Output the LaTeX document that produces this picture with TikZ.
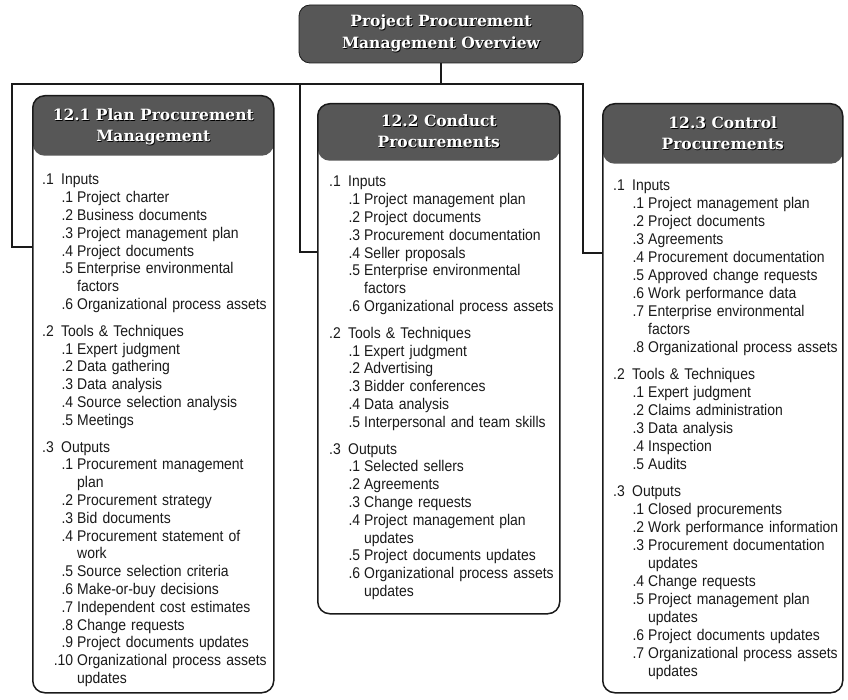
\documentclass[tikz,border=0pt]{standalone}
\usepackage{fontspec}
\setmainfont{Liberation Sans}[FakeStretch=0.9]
\newfontfamily\slab{DejaVu Serif}
\usetikzlibrary{positioning}
\definecolor{hdr}{HTML}{575757}
\definecolor{ink}{HTML}{1A1A1A}

% white heading text with a dark drop shadow
\newcommand{\shd}[1]{\makebox[0pt][l]{\hspace{0.9pt}\raisebox{-0.9pt}{\color{black}#1}}#1}
% list lines: group heading, numbered item, wrapped item line, space between groups
\newcommand{\grp}[2]{\par\noindent\makebox[19pt][l]{#1}#2\par}
\newcommand{\itm}[2]{\par\noindent\hangindent=35pt\hangafter=1\hspace*{19pt}\makebox[12pt][r]{#1}\hspace{4pt}#2\par}
\newcommand{\wrapln}{\hfil\break}
\newcommand{\gap}{\vspace{9pt}}

\tikzset{
  wire/.style={draw=ink,line width=1.8pt,line join=miter},
  topbox/.style={rectangle,rounded corners=11pt,fill=hdr,draw=ink,line width=0.8pt,
    minimum width=284pt,minimum height=58pt,text=white,align=center,
    font=\slab\bfseries\fontsize{15.5}{21.5}\selectfont},
  procbox/.style={rectangle,rounded corners=12pt,draw=ink,line width=1.5pt,fill=white,
    anchor=north west,inner sep=0pt,
    path picture={\fill[hdr] (path picture bounding box.north west) rectangle ([yshift=-#1]path picture bounding box.north east);}},
  headtxt/.style={text=white,align=center,font=\slab\bfseries\fontsize{15.5}{21}\selectfont},
  listtxt/.style={anchor=north west,inner sep=0pt,text width=232pt,align=left,text=ink,
    font=\fontsize{15.5}{17.8}\selectfont},
}

\begin{document}
\begin{tikzpicture}[x=1pt,y=-1pt]
\useasboundingbox (0,0) rectangle (848,700);

\node[topbox] (top) at (441,34) {\shd{Project Procurement}\\\shd{Management Overview}};

% the three processes
\node[procbox=60pt,minimum width=241pt,minimum height=597pt] (p1) at (32,95) {};
\node[procbox=57pt,minimum width=242pt,minimum height=510pt] (p2) at (317,103) {};
\node[procbox=60pt,minimum width=240pt,minimum height=589pt] (p3) at (602,103) {};

\node[headtxt] (h1) at ([yshift=-32pt]p1.north) {\shd{12.1 Plan Procurement}\\\shd{Management}};
\node[headtxt] (h2) at ([yshift=-29pt]p2.north) {\shd{12.2 Conduct}\\\shd{Procurements}};
\node[headtxt] (h3) at ([yshift=-31pt]p3.north) {\shd{12.3 Control}\\\shd{Procurements}};

\node[listtxt] (l1) at ([xshift=10pt,yshift=-72pt]p1.north west) {%
\grp{.1}{Inputs}
\itm{.1}{Project charter}
\itm{.2}{Business documents}
\itm{.3}{Project management plan}
\itm{.4}{Project documents}
\itm{.5}{Enterprise environmental\wrapln factors}
\itm{.6}{Organizational process assets}
\gap
\grp{.2}{Tools \& Techniques}
\itm{.1}{Expert judgment}
\itm{.2}{Data gathering}
\itm{.3}{Data analysis}
\itm{.4}{Source selection analysis}
\itm{.5}{Meetings}
\gap
\grp{.3}{Outputs}
\itm{.1}{Procurement management\wrapln plan}
\itm{.2}{Procurement strategy}
\itm{.3}{Bid documents}
\itm{.4}{Procurement statement of\wrapln work}
\itm{.5}{Source selection criteria}
\itm{.6}{Make-or-buy decisions}
\itm{.7}{Independent cost estimates}
\itm{.8}{Change requests}
\itm{.9}{Project documents updates}
\itm{.10}{Organizational process assets\wrapln updates}};

\node[listtxt] (l2) at ([xshift=12pt,yshift=-66pt]p2.north west) {%
\grp{.1}{Inputs}
\itm{.1}{Project management plan}
\itm{.2}{Project documents}
\itm{.3}{Procurement documentation}
\itm{.4}{Seller proposals}
\itm{.5}{Enterprise environmental\wrapln factors}
\itm{.6}{Organizational process assets}
\gap
\grp{.2}{Tools \& Techniques}
\itm{.1}{Expert judgment}
\itm{.2}{Advertising}
\itm{.3}{Bidder conferences}
\itm{.4}{Data analysis}
\itm{.5}{Interpersonal and team skills}
\gap
\grp{.3}{Outputs}
\itm{.1}{Selected sellers}
\itm{.2}{Agreements}
\itm{.3}{Change requests}
\itm{.4}{Project management plan\wrapln updates}
\itm{.5}{Project documents updates}
\itm{.6}{Organizational process assets\wrapln updates}};

\node[listtxt,font=\fontsize{15.5}{18}\selectfont] (l3) at ([xshift=11pt,yshift=-69pt]p3.north west) {%
\grp{.1}{Inputs}
\itm{.1}{Project management plan}
\itm{.2}{Project documents}
\itm{.3}{Agreements}
\itm{.4}{Procurement documentation}
\itm{.5}{Approved change requests}
\itm{.6}{Work performance data}
\itm{.7}{Enterprise environmental\wrapln factors}
\itm{.8}{Organizational process assets}
\gap
\grp{.2}{Tools \& Techniques}
\itm{.1}{Expert judgment}
\itm{.2}{Claims administration}
\itm{.3}{Data analysis}
\itm{.4}{Inspection}
\itm{.5}{Audits}
\gap
\grp{.3}{Outputs}
\itm{.1}{Closed procurements}
\itm{.2}{Work performance information}
\itm{.3}{Procurement documentation\wrapln updates}
\itm{.4}{Change requests}
\itm{.5}{Project management plan\wrapln updates}
\itm{.6}{Project documents updates}
\itm{.7}{Organizational process assets\wrapln updates}};

% connectors from the overview to each process
\coordinate (busL) at (12,84);
\coordinate (busM) at (300,84);
\coordinate (busR) at (583,84);
\draw[wire] (top.south) -- (top.south |- busL);
\draw[wire] ([yshift=-152pt]p1.north west) -| (busL) -- (busR) |- ([yshift=-150pt]p3.north west);
\draw[wire] (busM) |- ([yshift=-149pt]p2.north west);
\end{tikzpicture}
\end{document}
